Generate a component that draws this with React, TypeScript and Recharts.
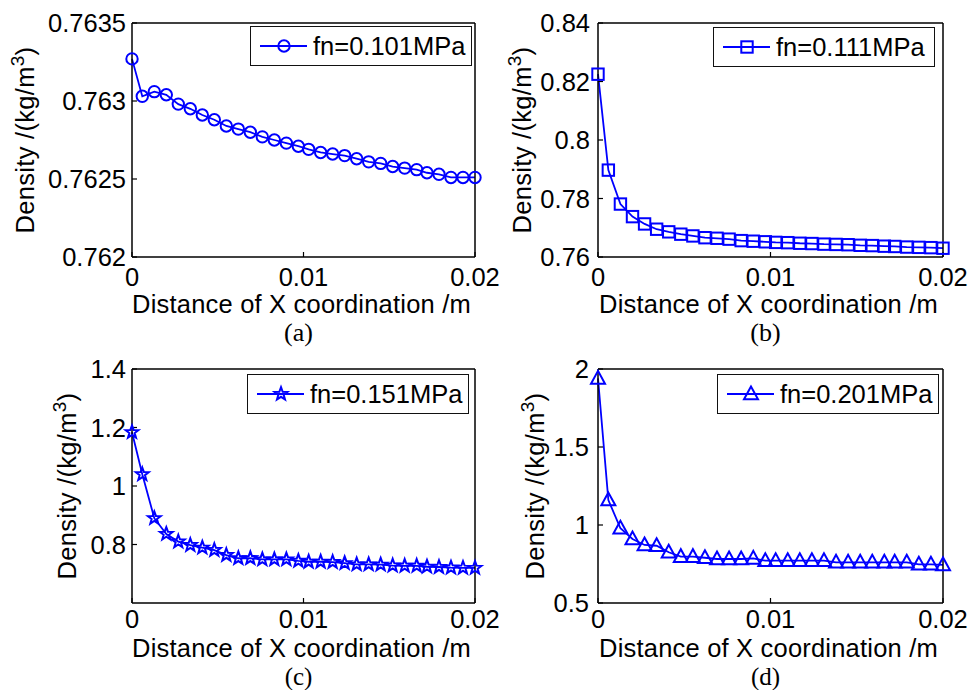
import { LineChart, Line, XAxis, YAxis, Legend } from 'recharts';

// x positions of the mesh nodes (m)
const xCoord = [
  0, 0.0006, 0.0013, 0.002, 0.0027, 0.0034, 0.0041, 0.0048, 0.0055, 0.0062,
  0.0069, 0.0076, 0.0083, 0.009, 0.0097, 0.0103, 0.011, 0.0117, 0.0124, 0.0131,
  0.0138, 0.0145, 0.0152, 0.0159, 0.0166, 0.0172, 0.0179, 0.0186, 0.0193, 0.02,
];

// density, kg/m3
const densityA = [
  0.76327, 0.76303, 0.76306, 0.76304, 0.76298, 0.76295, 0.76291, 0.76288, 0.76284, 0.76282,
  0.7628, 0.76277, 0.76275, 0.76273, 0.76271, 0.76269, 0.76267, 0.76266, 0.76265, 0.76263,
  0.76261, 0.7626, 0.76258, 0.76257, 0.76256, 0.76254, 0.76253, 0.76251, 0.76251, 0.76251,
];
const densityB = [
  0.8225, 0.7897, 0.7781, 0.7738, 0.7713, 0.7695, 0.7686, 0.7678, 0.7672, 0.7666,
  0.7664, 0.7661, 0.7656, 0.7654, 0.7652, 0.765, 0.7649, 0.7647, 0.7646, 0.7644,
  0.7643, 0.7642, 0.764, 0.7639, 0.7637, 0.7636, 0.7634, 0.7633, 0.7632, 0.763,
];
const densityC = [
  1.184, 1.04, 0.89, 0.836, 0.81, 0.798, 0.789, 0.781, 0.764, 0.753,
  0.753, 0.749, 0.749, 0.749, 0.744, 0.741, 0.741, 0.74, 0.736, 0.732,
  0.732, 0.731, 0.728, 0.727, 0.727, 0.724, 0.723, 0.721, 0.72, 0.72,
];
const densityD = [
  1.94, 1.16, 0.979, 0.91, 0.872, 0.867, 0.825, 0.797, 0.797, 0.79,
  0.782, 0.782, 0.782, 0.786, 0.771, 0.771, 0.771, 0.771, 0.771, 0.771,
  0.761, 0.761, 0.761, 0.761, 0.761, 0.761, 0.761, 0.748, 0.748, 0.744,
];

const xTicks = [0, 0.01, 0.02];
const yTicksA = [0.762, 0.7625, 0.763, 0.7635];
const yTicksB = [0.76, 0.78, 0.8, 0.82, 0.84];
const yTicksC = [0.8, 1, 1.2, 1.4];
const yTicksD = [0.5, 1, 1.5, 2];

const BLUE = '#0000ff';
const FONT = '"Liberation Sans", Arial, sans-serif';
const FS = 25.5;

type Kind = 'circle' | 'square' | 'star' | 'triangle';

function starPoints(cx: number, cy: number, R: number, r: number) {
  const pts: string[] = [];
  for (let i = 0; i < 10; i++) {
    const rad = i % 2 === 0 ? R : r;
    const a = -Math.PI / 2 + (i * Math.PI) / 5;
    pts.push(`${cx + rad * Math.cos(a)},${cy + rad * Math.sin(a)}`);
  }
  return pts.join(' ');
}

function Marker({ kind, cx, cy }: { kind: Kind; cx: number; cy: number }) {
  const common = { stroke: BLUE, strokeWidth: 2, fill: 'none' };
  if (kind === 'circle') return <circle cx={cx} cy={cy} r={5.7} {...common} />;
  if (kind === 'square') return <rect x={cx - 5.7} y={cy - 5.7} width={11.4} height={11.4} {...common} />;
  if (kind === 'star') return <polygon points={starPoints(cx, cy, 6.8, 2.8)} {...common} />;
  return <polygon points={`${cx},${cy - 7.5} ${cx - 7},${cy + 5.3} ${cx + 7},${cy + 5.3}`} {...common} />;
}

function LegendBox({ name, kind }: { name: string; kind: Kind }) {
  return (
    <div
      style={{
        width: 222,
        height: 40,
        boxSizing: 'border-box',
        border: '1.5px solid #111',
        background: '#fff',
        display: 'flex',
        alignItems: 'center',
        fontFamily: FONT,
        fontSize: FS,
        color: '#000',
      }}
    >
      <svg width={62} height={36} style={{ flex: 'none' }}>
        <line x1={9} x2={56} y1={18} y2={18} stroke={BLUE} strokeWidth={1.8} />
        <Marker kind={kind} cx={33} cy={18} />
      </svg>
      <span style={{ whiteSpace: 'nowrap' }}>{name}</span>
    </div>
  );
}

interface PanelProps {
  values: number[];
  yTicks: number[];
  yMin: number;
  kind: Kind;
  name: string;
  caption: string;
  xTickGap: number;
  titleY: number;
  captionY: number;
  captionSize: number;
  left: number;
  top: number;
  plotTop: number;
  plotBottom: number;
  plotWidth: number;
  labelShift: number;
  tickGap: number;
  legendLeft: number;
  legendTop: number;
}

const W = 503;
const H = 365;
const YW = 132;

function Panel(p: PanelProps) {
  const data = xCoord.map((x, i) => ({ x, y: p.values[i] }));
  const domain: [number, number] = [p.yMin, p.yTicks[p.yTicks.length - 1]];
  const axisLine = { stroke: '#000', strokeWidth: 1.5 };
  const tickLine = { stroke: '#000', strokeWidth: 1.2 };
  const tickStyle = { fill: '#000', fontSize: FS, fontFamily: FONT };

  return (
    <div style={{ position: 'absolute', left: p.left, top: p.top }}>
      <LineChart
        width={W}
        height={H}
        data={data}
        margin={{ top: p.plotTop - 5, right: W - YW - p.plotWidth - 5, bottom: 0, left: 0 }}
      >
        <XAxis
          dataKey="x"
          type="number"
          domain={[0, 0.02]}
          ticks={xTicks}
          height={H - p.plotBottom}
          tickSize={-5}
          tickMargin={p.xTickGap}
          axisLine={axisLine}
          tickLine={tickLine}
          tick={tickStyle}
          label={{
            content: (lp: any) => {
              const vb = lp.viewBox;
              const cx = vb.x + vb.width / 2;
              return (
                <g>
                  <text x={cx - 2} y={vb.y + p.titleY} dy="0.35em" textAnchor="middle" fontSize={FS} fontFamily={FONT} letterSpacing={0.2} fill="#000">
                    Distance of X coordination /m
                  </text>
                  <text x={cx - 5} y={vb.y + p.captionY} dy="0.35em" textAnchor="middle" fontSize={p.captionSize} fontFamily='"Liberation Serif", "Times New Roman", serif' fill="#000">
                    {p.caption}
                  </text>
                </g>
              );
            },
          }}
        />
        <XAxis
          xAxisId="top"
          orientation="top"
          type="number"
          domain={[0, 0.02]}
          ticks={xTicks}
          allowDataOverflow
          height={5}
          tickSize={-5}
          tick={false}
          axisLine={axisLine}
          tickLine={tickLine}
        />
        <YAxis
          type="number"
          domain={domain}
          ticks={p.yTicks}
          allowDataOverflow
          width={YW}
          tickSize={-5}
          tickMargin={p.tickGap + 5}
          axisLine={axisLine}
          tickLine={tickLine}
          tick={tickStyle}
          label={{
            content: (lp: any) => {
              const vb = lp.viewBox;
              const cx = vb.x + vb.width - p.labelShift;
              const cy = vb.y + vb.height / 2;
              return (
                <text
                  x={cx}
                  y={cy}
                  dy="0.35em"
                  transform={`rotate(-90, ${cx}, ${cy})`}
                  textAnchor="middle"
                  fontSize={FS}
                  fontFamily={FONT}
                  letterSpacing={0.3}
                  fill="#000"
                >
                  Density /(kg/m
                  <tspan fontSize={19} dy={-10}>3</tspan>
                  <tspan dy={10}>)</tspan>
                </text>
              );
            },
          }}
        />
        <YAxis
          yAxisId="right"
          orientation="right"
          type="number"
          domain={domain}
          ticks={p.yTicks}
          allowDataOverflow
          width={5}
          tickSize={-5}
          tick={false}
          axisLine={axisLine}
          tickLine={tickLine}
        />
        <Legend
          layout="vertical"
          align="center"
          verticalAlign="middle"
          wrapperStyle={{ left: p.legendLeft, top: p.legendTop, width: 222, height: 40 }}
          content={() => <LegendBox name={p.name} kind={p.kind} />}
        />
        <Line
          type="linear"
          dataKey="y"
          name={p.name}
          stroke={BLUE}
          strokeWidth={1.8}
          isAnimationActive={false}
          dot={(d: any) => <Marker key={d.index} kind={p.kind} cx={d.cx} cy={d.cy} />}
          activeDot={false}
        />
      </LineChart>
    </div>
  );
}

export default function App() {
  return (
    <div style={{ position: 'absolute', left: 0, top: 0, width: 969, height: 690, background: '#fff', overflow: 'hidden' }}>
      <Panel values={densityA} yTicks={yTicksA} yMin={0.762} kind="circle" name="fn=0.101MPa" caption="(a)"
        xTickGap={16} titleY={47} captionY={75} captionSize={26}
        left={0} top={0} plotTop={23} plotBottom={257} plotWidth={343} labelShift={107} tickGap={6}
        legendLeft={250} legendTop={26} />
      <Panel values={densityB} yTicks={yTicksB} yMin={0.76} kind="square" name="fn=0.111MPa" caption="(b)"
        xTickGap={16} titleY={47} captionY={75} captionSize={26}
        left={466} top={0} plotTop={23} plotBottom={257} plotWidth={345} labelShift={76} tickGap={8}
        legendLeft={247} legendTop={27} />
      <Panel values={densityC} yTicks={yTicksC} yMin={0.6} kind="star" name="fn=0.151MPa" caption="(c)"
        xTickGap={12} titleY={45.5} captionY={73} captionSize={25}
        left={0} top={345} plotTop={24} plotBottom={258} plotWidth={343} labelShift={65} tickGap={6}
        legendLeft={247} legendTop={29} />
      <Panel values={densityD} yTicks={yTicksD} yMin={0.5} kind="triangle" name="fn=0.201MPa" caption="(d)"
        xTickGap={12} titleY={45.5} captionY={73} captionSize={25}
        left={466} top={345} plotTop={24} plotBottom={258} plotWidth={345} labelShift={63} tickGap={9}
        legendLeft={251} legendTop={29} />
    </div>
  );
}
